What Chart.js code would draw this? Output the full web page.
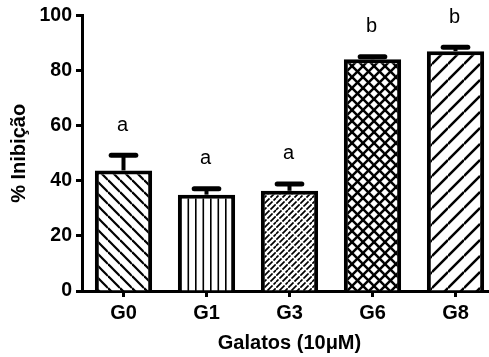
<!DOCTYPE html>
<html>
<head>
<meta charset="utf-8">
<style>
  html, body { margin: 0; padding: 0; background: #fff; overflow: hidden; width: 489px; height: 357px; }
  #wrap { width: 500px; height: 357px; }
</style>
<script src="https://cdn.jsdelivr.net/npm/chart.js@4/dist/chart.umd.min.js"></script>
</head>
<body>
<div id="wrap"><canvas id="c" width="500" height="357"></canvas></div>
<script>
// Inhibition (%) per gallate, mean and SEM, plus significance letters
const groups = ['G0', 'G1', 'G3', 'G6', 'G8'];
const inhibition = [43.8, 35.0, 36.4, 84.2, 87.1];
const sem = [5.5, 2.1, 2.5, 0.9, 1.4];
const letters = ['a', 'a', 'a', 'b', 'b'];
const yTickStep = 20;

const FONT = '"Liberation Sans", Arial, Helvetica, sans-serif';
const canvas = document.getElementById('c');
const ctx = canvas.getContext('2d');

// Small repeating tiles used as hatched bar fills
function tile(w, h, draw) {
  const c = document.createElement('canvas');
  c.width = w; c.height = h;
  const g = c.getContext('2d');
  g.fillStyle = '#fff';
  g.fillRect(0, 0, w, h);
  g.strokeStyle = '#000';
  g.fillStyle = '#000';
  draw(g, w, h);
  return ctx.createPattern(c, 'repeat');
}
function lineDown(g, s, k) { g.beginPath(); g.moveTo(0, k * s); g.lineTo(s, s + k * s); g.stroke(); }
function lineUp(g, s, k) { g.beginPath(); g.moveTo(0, s + k * s); g.lineTo(s, k * s); g.stroke(); }

const hatchDown = tile(12, 12, (g, s) => { g.lineWidth = 2.2; for (let k = -1; k <= 1; k++) lineDown(g, s, k); });
const hatchVertical = tile(15, 4, (g) => { g.fillRect(0, 0, 1.6, 4); g.fillRect(7.5, 0, 1.6, 4); });
const hatchBrick = tile(12, 12, (g, s) => {
  g.lineWidth = 1.7;
  for (let k = -1; k <= 1; k++) {
    g.beginPath(); g.moveTo(0, s + k * s); g.lineTo(s, k * s); g.stroke();
    g.beginPath(); g.moveTo(0, s / 2 + k * s); g.lineTo(s, -s / 2 + k * s); g.stroke();
  }
  g.strokeStyle = '#fff';
  g.lineWidth = 1.3;
  for (let k = -1; k <= 1; k++) lineDown(g, s, k);
});
const hatchCross = tile(11, 11, (g, s) => {
  g.lineWidth = 2.5;
  for (let k = -1; k <= 1; k++) { lineDown(g, s, k); lineUp(g, s, k); }
});
const hatchUp = tile(16, 16, (g, s) => { g.lineWidth = 2.5; for (let k = -1; k <= 1; k++) lineUp(g, s, k); });
const fills = [hatchDown, hatchVertical, hatchBrick, hatchCross, hatchUp];

// Error bars (mean + SEM) and significance letters above them
const errorBars = {
  id: 'errorBars',
  afterDatasetsDraw(chart) {
    const c = chart.ctx;
    const y = chart.scales.y;
    const meta = chart.getDatasetMeta(0);
    c.save();
    c.strokeStyle = '#000';
    c.fillStyle = '#000';
    meta.data.forEach((bar, i) => {
      const cx = bar.x;
      const base = y.getPixelForValue(inhibition[i]);
      const top = y.getPixelForValue(inhibition[i] + sem[i]);
      const half = bar.width / 4;
      c.lineCap = 'butt';
      c.lineWidth = 4;
      c.beginPath(); c.moveTo(cx, base); c.lineTo(cx, top); c.stroke();
      c.lineWidth = 5;
      c.lineCap = 'round';
      c.beginPath(); c.moveTo(cx - half + 2, top); c.lineTo(cx + half - 2, top); c.stroke();
      c.font = '20px ' + FONT;
      c.textAlign = 'center';
      c.textBaseline = 'alphabetic';
      c.fillText(letters[i], cx - 1, y.getPixelForValue(inhibition[i] + sem[i] + 9));
    });
    c.restore();
  }
};

const tickFont = { family: FONT, size: 20, weight: 'bold' };
const titleFont = { family: FONT, size: 20, weight: 'bold' };

new Chart(ctx, {
  type: 'bar',
  data: {
    labels: groups,
    datasets: [{
      data: inhibition,
      backgroundColor: fills,
      borderColor: '#000',
      borderWidth: 4,
      barPercentage: 0.69,
      categoryPercentage: 1
    }]
  },
  options: {
    responsive: false,
    animation: false,
    devicePixelRatio: 1,
    layout: { padding: { top: 15, right: 3, left: 0, bottom: 0 } },
    plugins: { legend: { display: false }, tooltip: { enabled: false } },
    scales: {
      x: {
        grid: { display: true, drawOnChartArea: false, drawTicks: true, tickLength: 6, tickWidth: 3, tickColor: '#000', offset: false },
        border: { display: true, color: '#000', width: 3 },
        ticks: { color: '#000', font: tickFont, padding: 4, maxRotation: 0 },
        title: { display: true, text: 'Galatos (10μM)', color: '#000', font: titleFont, padding: { top: 0, bottom: 2 } },
        afterFit(scale) { scale.height = 66; }
      },
      y: {
        min: 0,
        max: 100,
        grid: { display: true, drawOnChartArea: false, drawTicks: true, tickLength: 6, tickWidth: 3, tickColor: '#000' },
        border: { display: true, color: '#000', width: 3 },
        ticks: { stepSize: yTickStep, color: '#000', font: { family: FONT, size: 19.5, weight: 'bold' }, padding: 4 },
        title: { display: true, text: '% Inibição', color: '#000', font: titleFont, padding: { top: 7, bottom: 0 } },
        afterFit(scale) { scale.width = 82; }
      }
    }
  },
  plugins: [errorBars]
});
</script>
</body>
</html>
